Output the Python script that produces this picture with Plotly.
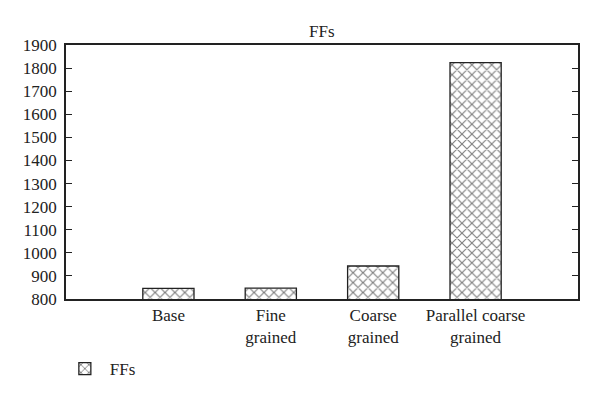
import plotly.graph_objects as go

categories = ["Base", "Fine<br>grained", "Coarse<br>grained", "Parallel coarse<br>grained"]
ffs_values = [846, 847, 943, 1824]
y_ticks = list(range(800, 2000, 100))

font = dict(family="Liberation Serif, Times New Roman, serif", size=17, color="#222")

fig = go.Figure()
fig.add_trace(go.Bar(
    x=categories, y=ffs_values, name="FFs", width=0.5,
    marker=dict(color="white", line=dict(color="#222", width=1.3),
                pattern=dict(shape="x", fgcolor="#000", bgcolor="white", size=7, solidity=0.3)),
))

# page body has an 8px default margin, so the figure is sized/offset to compensate
fig.update_layout(
    width=592, height=391,
    margin=dict(l=58, r=22, t=37, b=100),
    paper_bgcolor="white", plot_bgcolor="white",
    font=font,
    title=dict(text="FFs", x=0.53, xanchor="center", y=0.942, yanchor="middle", font=dict(size=17)),
    showlegend=True,
    legend=dict(x=-0.012, y=-0.205, xanchor="left", yanchor="top", orientation="h",
                font=dict(size=17), bgcolor="rgba(0,0,0,0)", itemwidth=40),
)
fig.update_xaxes(
    type="category", range=[-1, 4], showline=True, linecolor="#222", linewidth=1.5,
    mirror=True, ticks="", tickfont=dict(size=17), showgrid=False, automargin=False,
)
fig.update_yaxes(
    range=[800, 1900], tickvals=y_ticks, showline=True, linecolor="#222", linewidth=1.5,
    mirror="ticks", ticks="inside", ticklen=6, tickcolor="#222", showgrid=False,
    tickfont=dict(size=17), zeroline=False, automargin=False, ticklabelstandoff=4,
)
fig.write_html("out.html")
